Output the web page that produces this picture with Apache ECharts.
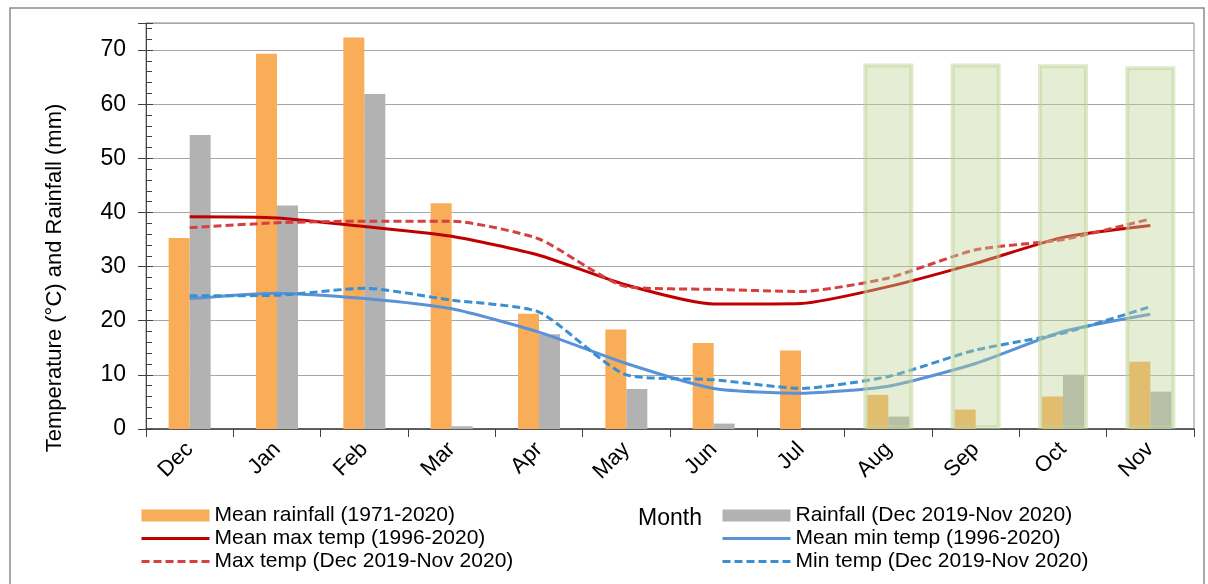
<!DOCTYPE html>
<html>
<head>
<meta charset="utf-8">
<script src="https://cdn.jsdelivr.net/npm/echarts@6/dist/echarts.min.js"></script>
<style>
html,body{margin:0;padding:0;background:#fff;}
#chart{width:1208px;height:584px;}
</style>
</head>
<body>
<div id="chart"></div>
<script>
const months = ['Dec','Jan','Feb','Mar','Apr','May','Jun','Jul','Aug','Sep','Oct','Nov'];
const meanRain = [35.3,69.3,72.3,41.7,21.3,18.4,15.9,14.5,6.3,3.6,6.0,12.4];
const rain2020 = [54.3,41.3,61.9,0.5,17.5,7.4,1.0,0,2.3,0,10.0,6.9];
const meanMax = [39.2,39.0,37.4,35.6,32.1,26.6,23.1,23.2,26.3,30.6,35.4,37.6];
const maxTemp = [37.2,38.1,38.4,38.4,35.1,26.3,25.8,25.4,27.9,33.1,35.0,38.8];
const meanMin = [24.1,25.1,24.1,22.2,17.9,12.1,7.5,6.6,7.9,12.1,18.0,21.2];
const minTemp = [24.6,24.7,26.0,23.8,21.6,10.0,9.1,7.5,9.7,14.6,17.7,22.6];
const dryBox = [null,null,null,null,null,null,null,null,67.5,67.5,67.4,67.0];
const yTicks = [0,10,20,30,40,50,60,70];

const FONT = 'Liberation Sans, Arial, sans-serif';
const chart = echarts.init(document.getElementById('chart'));
const lineBase = {type:'line', symbol:'none', smooth:0.2, xAxisIndex:0, yAxisIndex:0, z:3};
const hideSym = {color:'transparent', borderWidth:0};
const legendCommon = {
  orient:'vertical', top:505, itemWidth:68, itemHeight:12, itemGap:2, padding:0,
  textStyle:{fontSize:21, color:'#000', fontFamily:FONT, lineHeight:21},
  lineStyle:{width:3}
};

chart.setOption({
  animation:false,
  backgroundColor:'#fff',
  textStyle:{fontFamily:FONT},
  grid:{left:146, right:14, top:23, bottom:155, show:true, borderColor:'#8c8c8c', borderWidth:1, outerBoundsMode:'none'},
  xAxis:[{
    type:'category', data:months, boundaryGap:true,
    name:'Month', nameLocation:'middle', nameGap:78,
    nameTextStyle:{fontSize:23, color:'#000', fontFamily:FONT},
    axisLine:{lineStyle:{color:'#404040', width:1.5}},
    axisTick:{show:true, length:8, lineStyle:{color:'#404040'}},
    axisLabel:{rotate:45, fontSize:22, color:'#000', margin:17, fontFamily:FONT, interval:0},
    splitLine:{show:false}
  },{
    type:'category', data:months, show:false, boundaryGap:true
  }],
  yAxis:[{
    type:'value', min:0, max:75, interval:10,
    axisLine:{show:true, lineStyle:{color:'#404040', width:1}},
    axisTick:{show:true, length:8, inside:false, lineStyle:{color:'#404040'}},
    axisLabel:{fontSize:23, color:'#000', margin:20, fontFamily:FONT,
      formatter:v => yTicks.indexOf(v) >= 0 ? String(v) : ''},
    splitLine:{show:true, lineStyle:{color:'#a6a6a6', width:1}}
  },{
    type:'value', min:0, max:75, interval:10, position:'left', offset:0,
    axisLine:{show:false},
    axisTick:{show:true, inside:true, length:7, lineStyle:{color:'#404040'}},
    minorTick:{show:true, splitNumber:5, length:6, lineStyle:{color:'#404040'}},
    axisLabel:{show:false},
    splitLine:{show:false}
  }],
  legend:[Object.assign({}, legendCommon, {
    left:140,
    data:[
      {name:'Mean rainfall (1971-2020)', icon:'rect'},
      {name:'Mean max temp (1996-2020)', itemStyle:hideSym},
      {name:'Max temp (Dec 2019-Nov 2020)', itemStyle:hideSym}
    ]
  }), Object.assign({}, legendCommon, {
    left:721,
    data:[
      {name:'Rainfall (Dec 2019-Nov 2020)', icon:'rect'},
      {name:'Mean min temp (1996-2020)', itemStyle:hideSym},
      {name:'Min temp (Dec 2019-Nov 2020)', itemStyle:hideSym}
    ]
  })],
  graphic:[
    {type:'rect', silent:true, shape:{x:10, y:8, width:1194, height:620},
     style:{fill:'none', stroke:'#8c8c8c', lineWidth:1.5}, z:-1},
    {type:'text', x:55, y:278, rotation:Math.PI/2,
     style:{text:'Temperature (°C) and Rainfall (mm)', fontSize:22, fontFamily:FONT,
       fill:'#000', align:'center', verticalAlign:'middle'}}
  ],
  series:[
    {name:'Mean rainfall (1971-2020)', type:'bar', data:meanRain, barWidth:21, barGap:'0%',
     xAxisIndex:0, yAxisIndex:0, z:2,
     itemStyle:{color:'#f9ad58'}},
    {name:'Rainfall (Dec 2019-Nov 2020)', type:'bar', data:rain2020, barWidth:21, barGap:'0%',
     xAxisIndex:0, yAxisIndex:0, z:2,
     itemStyle:{color:'#b2b2b2'}},
    Object.assign({}, lineBase, {name:'Mean max temp (1996-2020)', data:meanMax,
     lineStyle:{color:'#c00000', width:3}, itemStyle:{color:'#c00000'}}),
    Object.assign({}, lineBase, {name:'Max temp (Dec 2019-Nov 2020)', data:maxTemp,
     lineStyle:{color:'#d63f3f', width:3, type:[8,4]}, itemStyle:{color:'#d63f3f'}}),
    Object.assign({}, lineBase, {name:'Mean min temp (1996-2020)', data:meanMin,
     lineStyle:{color:'#5a92d8', width:3}, itemStyle:{color:'#5a92d8'}}),
    Object.assign({}, lineBase, {name:'Min temp (Dec 2019-Nov 2020)', data:minTemp,
     lineStyle:{color:'#3a8ed2', width:3, type:[8,4]}, itemStyle:{color:'#3a8ed2'}}),
    {name:'dry', type:'bar', data:dryBox, barWidth:50, xAxisIndex:1, yAxisIndex:0, z:6,
     silent:true,
     itemStyle:{color:'rgba(190,212,150,0.40)', borderColor:'rgba(190,212,150,0.5)', borderWidth:4}}
  ]
});
</script>
</body>
</html>
